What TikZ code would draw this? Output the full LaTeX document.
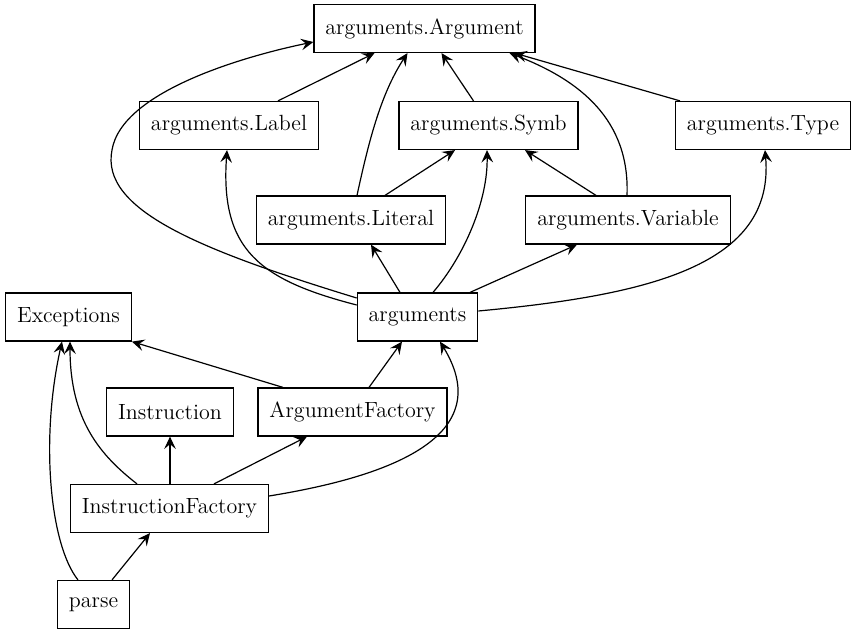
\documentclass[tikz,border=0pt]{standalone}
\usepackage{tikz}
\usetikzlibrary{positioning,arrows.meta,calc}

\begin{document}
\begin{tikzpicture} [
			x=0.5pt,y=-0.5pt,
			every rectangle node/.style={draw,line width=0.6pt,inner xsep=5.7pt,minimum height=24pt,font=\fontsize{11}{13}\selectfont},
			every path/.style={line width=0.6pt},
			dep/.style={-{Stealth[length=6.2pt,width=5.8pt,inset=2.4pt]}},
		]
		
		\useasboundingbox (0,0) rectangle (856,635);
		
		\node[rectangle] (argument) at (424.5,28.5) {arguments.Argument};
		\node[rectangle] (label) at (229,125.5) {arguments.Label};
		\node[rectangle] (symb) at (488.5,125.5) {arguments.Symb};
		\node[rectangle] (type) at (763,125.5) {arguments.Type};
		\node[rectangle] (literal) at (351,220) {arguments.Literal};
		\node[rectangle] (variable) at (628,220) {arguments.Variable};
		\node[rectangle] (exceptions) at (68.5,317) {Exceptions};
		\node[rectangle] (arguments) at (417.5,317) {arguments};
		\node[rectangle] (instruction) at (170,412) {Instruction};
		\node[rectangle] (argfactory) at (352.5,412) {ArgumentFactory};
		\node[rectangle] (instrfactory) at (169.5,508.5) {InstructionFactory};
		\node[rectangle] (parse) at (93.5,604.5) {parse};
		
		% arguments.* -> arguments.Argument
		\draw[dep] ($(label.north)+(49,0)$) -- ($(argument.south)+(-50,0)$);
		\draw[dep] ($(literal.north)+(6,0)$) .. controls (368,145) and (380,95) .. ($(argument.south)+(-17,0)$);
		\draw[dep] ($(symb.north)+(-15,0)$) -- ($(argument.south)+(17,0)$);
		\draw[dep] ($(variable.north)+(-1,0)$) .. controls (630,120) and (580,80) .. ($(argument.south)+(85,0)$);
		\draw[dep] ($(type.north)+(-83,0)$) -- ($(argument.south)+(90,0)$);
		\draw[dep] ($(arguments.west)+(0,-19)$) .. controls (200,250) and (100,210) .. (112,150) .. controls (122,90) and (250,55) .. ($(argument.west)+(0,13.5)$);
		
		\draw[dep] ($(literal.north)+(34,0)$) -- ($(symb.south)+(-33.5,0)$);
		\draw[dep] ($(variable.north)+(-32,0)$) -- ($(symb.south)+(36.5,0)$);
		
		% arguments -> its members
		\draw[dep] ($(arguments.west)+(0,-12)$) .. controls (260,280) and (220,250) .. ($(label.south)+(-2,0)$);
		\draw[dep] ($(arguments.north)+(-17.5,0)$) -- ($(literal.south)+(20,0)$);
		\draw[dep] ($(arguments.north)+(15.5,0)$) .. controls (465,255) and (488,200) .. ($(symb.south)+(-1.5,0)$);
		\draw[dep] ($(arguments.north)+(52.5,0)$) -- ($(variable.south)+(-51,0)$);
		\draw[dep] ($(arguments.east)+(0,-6)$) .. controls (650,295) and (775,265) .. ($(type.south)+(2,0)$);
		
		% factories and parse
		\draw[dep] ($(argfactory.north)+(-69.5,0)$) -- (exceptions.south east);
		\draw[dep] ($(argfactory.north)+(16.5,0)$) -- ($(arguments.south)+(-15.5,0)$);
		\draw[dep] ($(instrfactory.north)+(-32.5,0)$) .. controls (100,455) and (70,420) .. ($(exceptions.south)+(1.5,0)$);
		\draw[dep] (instruction.south |- instrfactory.north) -- (instruction.south);
		\draw[dep] ($(instrfactory.north)+(44.5,0)$) -- ($(argfactory.south)+(-45.5,0)$);
		\draw[dep] ($(instrfactory.east)+(0,-12.5)$) .. controls (380,478) and (500,440) .. ($(arguments.south)+(22.5,0)$);
		\draw[dep] ($(parse.north)+(18.5,0)$) -- ($(instrfactory.south)+(-19.5,0)$);
		\draw[dep] ($(parse.north)+(-15.5,0)$) .. controls (50,545) and (40,440) .. ($(exceptions.south)+(-6.5,0)$);
		
	\end{tikzpicture}
\end{document}
